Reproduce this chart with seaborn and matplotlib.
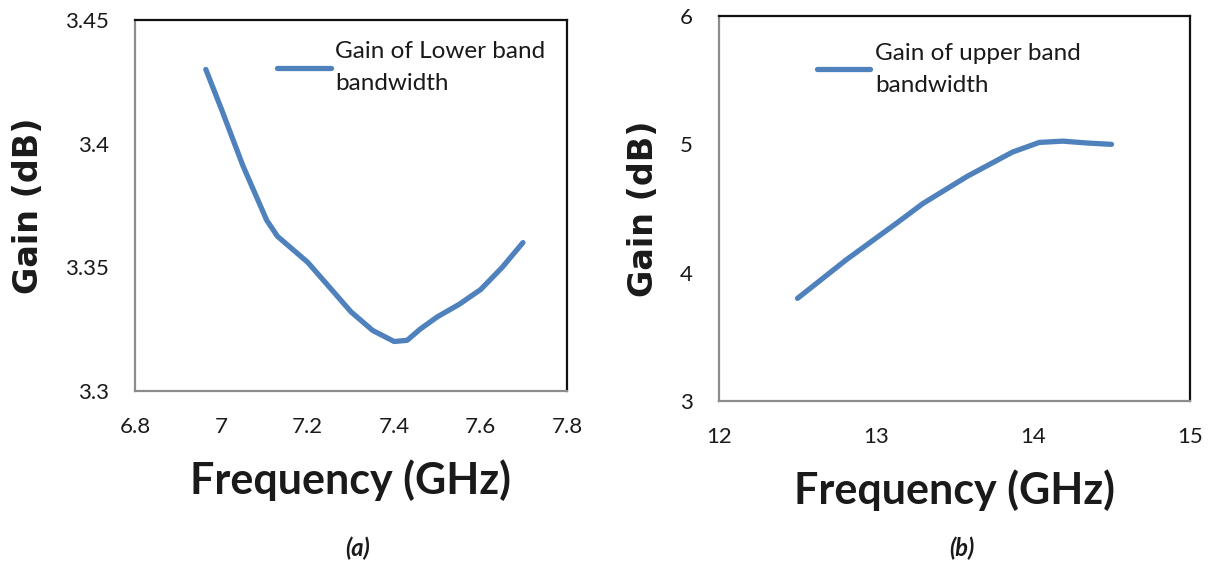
import matplotlib
matplotlib.use("Agg")
import matplotlib.pyplot as plt
import seaborn as sns
import pandas as pd

# Gain of the lower band (panel a)
lower_freq = [6.964, 7.0, 7.05, 7.08, 7.105, 7.13, 7.16, 7.2, 7.25, 7.3, 7.35, 7.4, 7.43,
              7.46, 7.5, 7.55, 7.6, 7.65, 7.698]
lower_gain = [3.430, 3.414, 3.391, 3.379, 3.369, 3.3625, 3.358, 3.352, 3.342, 3.332, 3.3245,
              3.320, 3.3205, 3.325, 3.330, 3.335, 3.341, 3.350, 3.360]

# Gain of the upper band (panel b)
upper_freq = [12.5, 12.81, 13.13, 13.3, 13.58, 13.87, 14.04, 14.19, 14.35, 14.5]
upper_gain = [3.80, 4.10, 4.385, 4.54, 4.75, 4.94, 5.015, 5.025, 5.01, 5.00]

lower_xticks = [6.8, 7.0, 7.2, 7.4, 7.6, 7.8]
lower_yticks = [3.3, 3.35, 3.4, 3.45]
upper_xticks = [12, 13, 14, 15]
upper_yticks = [3, 4, 5, 6]

lower_label = "Gain of Lower band\nbandwidth"
upper_label = "Gain of upper band\nbandwidth"
captions = ["(a)", "(b)"]

sns.set_theme(style="white")
plt.rcParams["font.family"] = ["Lato", "DejaVu Sans"]

LINE = "#4F81BD"
TXT = "#1a1a1a"

fig = plt.figure(figsize=(12.16, 5.66), dpi=100)
ax_a = fig.add_axes([0.1110, 0.3092, 0.3553, 0.6555])
ax_b = fig.add_axes([0.5913, 0.2915, 0.3873, 0.6802])


def draw_panel(ax, freq, gain, label, xticks, yticks):
    df = pd.DataFrame({"freq": freq, "gain": gain})
    sns.lineplot(data=df, x="freq", y="gain", ax=ax, color=LINE, lw=3.8,
                 label=label, solid_capstyle="round", solid_joinstyle="round")
    ax.set_xlim(xticks[0], xticks[-1])
    ax.set_ylim(yticks[0], yticks[-1])
    ax.set_xticks(xticks)
    ax.set_yticks(yticks)
    ax.set_xticklabels([f"{v:g}" for v in xticks])
    ax.set_yticklabels([f"{v:g}" for v in yticks])
    ax.tick_params(axis="both", direction="in", length=7, width=1.2,
                   color="#888888", labelsize=16, labelcolor=TXT, pad=19)
    ax.tick_params(axis="x", top=False)
    ax.tick_params(axis="y", right=False)
    for side in ("left", "bottom"):
        ax.spines[side].set_color("#8c8c8c")
        ax.spines[side].set_linewidth(1.6)
    for side in ("top", "right"):
        ax.spines[side].set_color("#111111")
        ax.spines[side].set_linewidth(1.6)
    ax.set_xlabel("Frequency (GHz)", fontsize=31, fontweight="bold",
                  color=TXT, labelpad=16)
    ax.set_ylabel("Gain (dB)", fontsize=24, fontweight="bold", color=TXT,
                  family="DejaVu Sans", labelpad=14)


draw_panel(ax_a, lower_freq, lower_gain, lower_label, lower_xticks, lower_yticks)
draw_panel(ax_b, upper_freq, upper_gain, upper_label, upper_xticks, upper_yticks)

for ax, anchor in ((ax_a, (0.329, 0.942)), (ax_b, (0.207, 0.929))):
    leg = ax.legend(loc="upper left", bbox_to_anchor=anchor, frameon=False,
                    fontsize=17.5, handlelength=2.2, handletextpad=0.2,
                    borderpad=0, borderaxespad=0)
    for t in leg.get_texts():
        t.set_color(TXT)
        t.set_linespacing(1.6)

fig.text(358 / 1216, 1 - 548 / 566, captions[0], ha="center", va="center",
         fontsize=17, fontweight="bold", fontstyle="italic", color=TXT)
fig.text(962 / 1216, 1 - 548 / 566, captions[1], ha="center", va="center",
         fontsize=17, fontweight="bold", fontstyle="italic", color=TXT)

fig.savefig("out.png", dpi=100)
